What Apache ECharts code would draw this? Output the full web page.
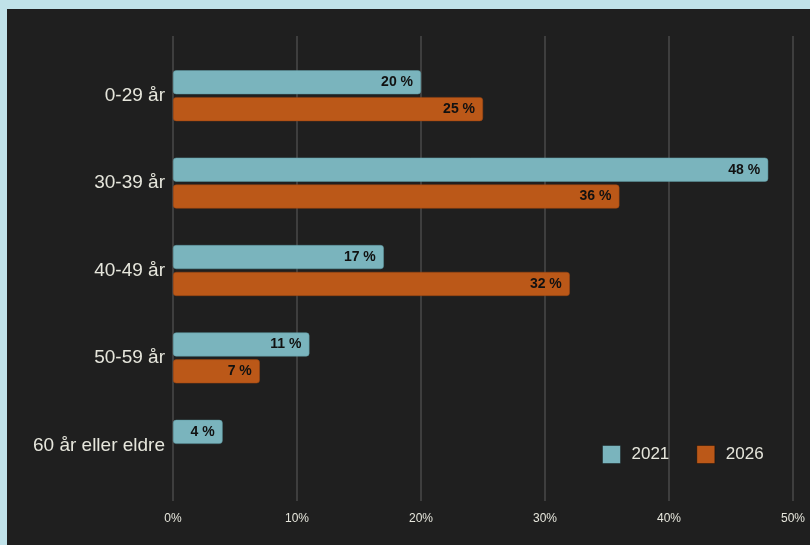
<!DOCTYPE html>
<html>
<head>
<meta charset="utf-8">
<script src="https://cdn.jsdelivr.net/npm/echarts@6/dist/echarts.min.js"></script>
<style>
  html, body { margin: 0; padding: 0; background: #c0e2e9; }
  #wrap { position: relative; width: 810px; height: 545px; overflow: hidden; }
  #chart { position: absolute; left: 7px; top: 9px; width: 803px; height: 536px; }
</style>
</head>
<body>
<div id="wrap"><div id="chart"></div></div>
<script>
// aldersgrupper
const categories = ['0-29 år', '30-39 år', '40-49 år', '50-59 år', '60 år eller eldre']
const values2021 = [20, 48, 17, 11, 4]
const values2026 = [25, 36, 32, 7, null]
const xTicks = [0, 10, 20, 30, 40, 50]

const colBlue = '#7ab4bd'
const colOrange = '#bb5818'
const textCol = '#e6e6dc'

const chart = echarts.init(document.getElementById('chart'))

const labelStyle = {
  show: true,
  position: 'insideRight',
  distance: 8,
  formatter: '{c} %',
  color: '#111',
  fontWeight: 'bold',
  fontSize: 14,
  fontFamily: 'Liberation Sans, Arial, sans-serif'
}

chart.setOption({
  backgroundColor: '#1f1f1f',
  animation: false,
  textStyle: { fontFamily: 'Liberation Sans, Arial, sans-serif' },
  legend: {
    left: 595,
    top: 436,
    padding: 0,
    itemWidth: 18,
    itemHeight: 18,
    itemGap: 27,
    icon: 'rect',
    itemStyle: { borderColor: 'rgba(0,0,0,0.35)', borderWidth: 1 },
    textStyle: { color: textCol, fontSize: 17, padding: [0, 0, 0, 6] },
    data: ['2021', '2026']
  },
  grid: [
    // bars
    { left: 166, right: 17, top: 43, bottom: 56 },
    // gridlines only (taller)
    { left: 166, right: 17, top: 27, bottom: 44 }
  ],
  xAxis: [
    {
      gridIndex: 0, type: 'value', min: 0, max: 50, interval: 10,
      axisLine: { show: false }, axisTick: { show: false },
      axisLabel: { show: false }, splitLine: { show: false }
    },
    {
      gridIndex: 1, type: 'value', min: xTicks[0], max: xTicks[xTicks.length - 1], interval: 10,
      axisLine: { show: false }, axisTick: { show: false },
      axisLabel: { color: textCol, fontSize: 12, margin: 12, formatter: '{value}%' },
      splitLine: { lineStyle: { color: '#4a4a4a', width: 1.5 } }
    }
  ],
  yAxis: [
    {
      gridIndex: 0, type: 'category', data: categories, inverse: true,
      axisLine: { show: false }, axisTick: { show: false },
      axisLabel: { color: textCol, fontSize: 19, margin: 8 }
    },
    {
      gridIndex: 1, type: 'category', data: categories, show: false
    }
  ],
  series: [
    {
      name: '2021', type: 'bar', xAxisIndex: 0, yAxisIndex: 0,
      data: values2021, barWidth: 24, barGap: '12%',
      itemStyle: { color: colBlue, borderRadius: 3, borderColor: '#5f9aa3', borderWidth: 0.5 },
      label: labelStyle, z: 3
    },
    {
      name: '2026', type: 'bar', xAxisIndex: 0, yAxisIndex: 0,
      data: values2026, barWidth: 24, barGap: '12%',
      itemStyle: { color: colOrange, borderRadius: 3, borderColor: '#9a4510', borderWidth: 0.5 },
      label: labelStyle, z: 3
    }
  ]
})

window.addEventListener('resize', () => chart.resize())
</script>
</body>
</html>
